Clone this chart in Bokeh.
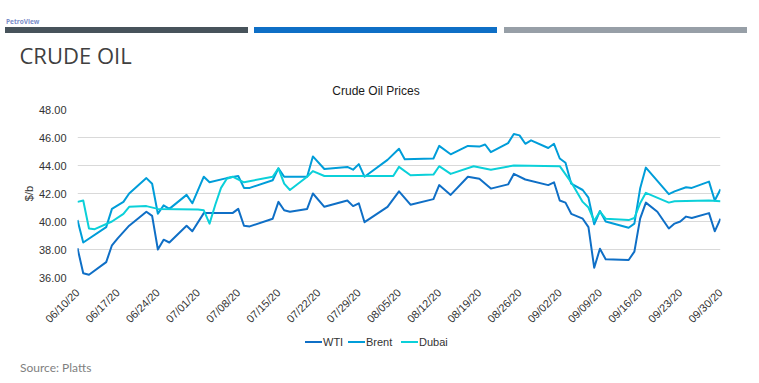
import math
from datetime import datetime
from bokeh.plotting import figure
from bokeh.models import (Range1d, FixedTicker, ColumnDataSource, Div,
                          NumeralTickFormatter, DatetimeTickFormatter)
from bokeh.layouts import column
from bokeh.embed import file_html
from bokeh.resources import INLINE

# ---------------- data ----------------
tick_labels = ["06/10/20", "06/17/20", "06/24/20", "07/01/20", "07/08/20", "07/15/20",
               "07/22/20", "07/29/20", "08/05/20", "08/12/20", "08/19/20", "08/26/20",
               "09/02/20", "09/09/20", "09/16/20", "09/23/20", "09/30/20"]
y_ticks = [36, 38, 40, 42, 44, 46, 48]

wti_dates = ["06-10", "06-11", "06-12", "06-15", "06-16", "06-17", "06-19", "06-22", "06-23",
             "06-24", "06-25", "06-26", "06-29", "06-30", "07-02", "07-07", "07-08", "07-09",
             "07-10", "07-14", "07-15", "07-16", "07-17", "07-20", "07-21", "07-23", "07-27",
             "07-28", "07-29", "07-30", "08-03", "08-05", "08-07", "08-11", "08-12", "08-14",
             "08-17", "08-19", "08-21", "08-24", "08-25", "08-27", "08-31", "09-01", "09-02",
             "09-03", "09-04", "09-06", "09-07", "09-08", "09-09", "09-10", "09-14", "09-15",
             "09-16", "09-17", "09-19", "09-21", "09-22", "09-23", "09-24", "09-25", "09-28",
             "09-29", "09-30"]
wti_values = [38.1, 36.3, 36.2, 37.1, 38.3, 38.8, 39.7, 40.7, 40.4,
              38.0, 38.7, 38.5, 39.7, 39.3, 40.6, 40.6, 40.9, 39.7,
              39.65, 40.2, 41.4, 40.8, 40.7, 40.9, 42.0, 41.05, 41.5,
              41.1, 41.3, 39.95, 41.05, 42.15, 41.2, 41.6, 42.6, 41.9,
              43.2, 43.05, 42.35, 42.65, 43.4, 43.0, 42.6, 42.8, 41.5,
              41.35, 40.55, 40.2, 39.6, 36.7, 38.05, 37.3, 37.25, 37.85,
              40.2, 41.35, 40.7, 39.5, 39.85, 40.0, 40.35, 40.25, 40.6,
              39.3, 40.2]

brent_dates = ["06-10", "06-11", "06-15", "06-16", "06-18", "06-19", "06-22", "06-23", "06-24",
               "06-25", "06-26", "06-29", "06-30", "07-02", "07-03", "07-06", "07-08", "07-09",
               "07-10", "07-14", "07-15", "07-16", "07-20", "07-21", "07-23", "07-27", "07-28",
               "07-29", "07-30", "08-03", "08-05", "08-06", "08-11", "08-12", "08-14", "08-17",
               "08-19", "08-20", "08-21", "08-24", "08-25", "08-26", "08-27", "08-28", "08-31",
               "09-01", "09-02", "09-03", "09-04", "09-06", "09-07", "09-08", "09-09", "09-10",
               "09-14", "09-15", "09-16", "09-17", "09-21", "09-22", "09-24", "09-25", "09-28",
               "09-29", "09-30"]
brent_values = [40.1, 38.5, 39.6, 40.9, 41.4, 42.0, 43.1, 42.7, 40.55,
                41.15, 40.9, 41.9, 41.3, 43.2, 42.8, 43.1, 43.25, 42.4,
                42.4, 42.95, 43.8, 43.2, 43.2, 44.65, 43.75, 43.9, 43.7,
                44.1, 43.2, 44.4, 45.2, 44.45, 44.5, 45.4, 44.8, 45.4,
                45.35, 45.5, 44.95, 45.6, 46.25, 46.15, 45.55, 45.8, 45.25,
                45.55, 44.5, 44.2, 42.7, 42.25, 41.7, 39.8, 40.75, 40.0,
                39.55, 39.85, 42.35, 43.85, 41.95, 42.15, 42.45, 42.4, 42.85,
                41.5, 42.3]

dubai_dates = ["06-10", "06-11", "06-12", "06-13", "06-16", "06-18", "06-19", "06-22", "06-24",
               "07-01", "07-02", "07-03", "07-04", "07-05", "07-06", "07-07", "07-09", "07-14",
               "07-15", "07-16", "07-17", "07-20", "07-21", "07-23", "08-04", "08-05", "08-07",
               "08-11", "08-12", "08-14", "08-18", "08-21", "08-25", "09-02", "09-04", "09-06",
               "09-07", "09-08", "09-09", "09-10", "09-14", "09-15", "09-16", "09-17", "09-21",
               "09-22", "09-28", "09-30"]
dubai_values = [41.4, 41.5, 39.5, 39.45, 40.0, 40.55, 41.05, 41.1, 40.9,
                40.85, 40.8, 39.85, 41.2, 42.4, 43.05, 43.2, 42.8, 43.2,
                43.8, 42.7, 42.25, 43.2, 43.6, 43.25, 43.25, 43.9, 43.3,
                43.35, 43.95, 43.4, 43.95, 43.7, 44.0, 43.95, 42.8, 41.4,
                41.0, 40.05, 40.7, 40.2, 40.1, 40.25, 41.3, 42.05, 41.35,
                41.45, 41.5, 41.45]

series_names = ["WTI", "Brent", "Dubai"]
series_colors = ["#0F6FC6", "#009DD9", "#0BD0D9"]

# ---------------- helpers ----------------
def to_dt(md):
    return datetime.strptime("2020-" + md, "%Y-%m-%d")

def ms(d):
    return (d - datetime(1970, 1, 1)).total_seconds() * 1000.0

def txt(text, left, top, size, font, color, weight="normal", extra=""):
    return (f'<div style="position:absolute;left:{left}px;top:{top}px;font-family:\'{font}\';'
            f'font-size:{size}px;line-height:{size}px;color:{color};font-weight:{weight};'
            f'white-space:nowrap;{extra}">{text}</div>')

def box(left, top, w, h, color):
    return (f'<div style="position:absolute;left:{left}px;top:{top}px;width:{w}px;'
            f'height:{h}px;background:{color};"></div>')

tick_dates = [datetime.strptime(t, "%m/%d/%y") for t in tick_labels]
TXT = "#333333"
FONT = "Liberation Sans"
W = 759

# ---------------- header (page y 0-100) ----------------
hdr_html = ('<div style="position:relative;width:759px;height:100px;overflow:visible;">'
            + txt("PetroView", 6, 19.3, 6.5, "Open Sans", "#7a8cc8", "bold")
            + box(5, 27, 243, 6, "#47535b")
            + box(254, 27, 243, 6, "#0F6FC6")
            + box(504, 27, 243, 6, "#979fa7")
            + txt("CRUDE OIL", 19.5, 43.5, 22, "Open Sans", "#404040")
            + txt("Crude Oil Prices", 0, 84.8, 12, FONT, "#1a1a1a",
                  extra="width:752px;text-align:center;")
            + '</div>')
hdr = Div(text=hdr_html, width=W, height=100, margin=0)

# ---------------- main chart (page y 100-332) ----------------
p = figure(width=W, height=232, x_axis_type="datetime",
           x_range=Range1d(ms(tick_dates[0]), ms(tick_dates[-1])),
           y_range=Range1d(y_ticks[0], y_ticks[-1]),
           output_backend="svg", toolbar_location=None,
           min_border_left=77, min_border_right=39, min_border_top=9, min_border_bottom=54)
p.outline_line_color = None
p.xgrid.visible = False
p.ygrid.grid_line_color = "#d9d9d9"
p.ygrid.grid_line_width = 1

p.yaxis.ticker = FixedTicker(ticks=y_ticks)
p.yaxis.formatter = NumeralTickFormatter(format="0.00")
p.yaxis.axis_label = "$/b"
p.yaxis.axis_label_text_font = FONT
p.yaxis.axis_label_text_font_size = "11px"
p.yaxis.axis_label_text_font_style = "normal"
p.yaxis.axis_label_text_color = TXT
p.yaxis.axis_label_standoff = 1
p.yaxis.major_label_standoff = 5

p.xaxis.ticker = FixedTicker(ticks=[ms(d) for d in tick_dates])
fmt = "%m/%d/%y"
p.xaxis.formatter = DatetimeTickFormatter(milliseconds=fmt, seconds=fmt, minsec=fmt, minutes=fmt,
                                          hourmin=fmt, hours=fmt, days=fmt, months=fmt, years=fmt)
p.xaxis.major_label_orientation = math.pi / 4
p.xaxis.major_label_standoff = 7

for ax in p.axis:
    ax.axis_line_color = None
    ax.major_tick_line_color = None
    ax.minor_tick_line_color = None
    ax.major_label_text_font = FONT
    ax.major_label_text_font_size = "11px"
    ax.major_label_text_color = TXT

for dates, vals, col in zip([wti_dates, brent_dates, dubai_dates],
                            [wti_values, brent_values, dubai_values],
                            series_colors):
    src = ColumnDataSource(dict(x=[to_dt(d) for d in dates], y=vals))
    p.line("x", "y", source=src, line_width=2, line_color=col, line_join="round")

# ---------------- footer: legend + source (page y 332-383) ----------------
leg_x = [305, 348, 401]
parts = []
for name, col, x0 in zip(series_names, series_colors, leg_x):
    parts.append(box(x0, 9, 17, 2, col))
    parts.append(txt(name, x0 + 18, 4.7, 11, FONT, TXT))
ftr_html = ('<div style="position:relative;width:759px;height:51px;overflow:visible;">'
            + "".join(parts)
            + txt("Source: Platts", 20, 30, 12, "Lato", "#7f7f7f")
            + '</div>')
ftr = Div(text=ftr_html, width=W, height=51, margin=0)

layout = column(hdr, p, ftr, spacing=0)
open("out.html", "w").write(file_html(layout, INLINE))
